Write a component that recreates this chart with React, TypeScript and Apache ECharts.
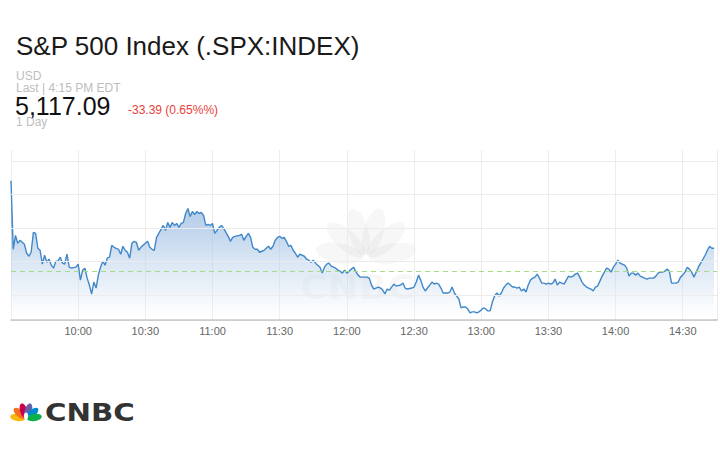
import React, { useEffect, useRef } from "react";
import * as echarts from "echarts";

// Minutes since the 9:30 open, and S&P 500 level at that minute
const minutesFromOpen = [
  0, 1, 2, 3, 4, 5, 6, 7, 8, 9, 10, 11, 12, 13, 14, 15, 16, 17, 18, 19, 20, 21, 22, 23, 24, 25, 26, 27, 29, 30,
  31, 32, 33, 34, 35, 36, 37, 38, 39, 40, 41, 42, 43, 44, 45, 46, 48, 49, 50, 51, 52, 53, 54, 55, 56, 57, 58, 59, 60,
  61, 62, 63, 64, 65, 66, 67, 68, 69, 70, 71, 72, 73, 74, 75, 76, 77, 78, 79, 80, 81, 82, 83, 84, 85, 86, 87, 88, 89, 90,
  91, 92, 93, 94, 95, 96, 97, 98, 99, 100, 102, 103, 104, 105, 106, 107, 108, 109, 110, 111, 112, 113, 114, 115, 116, 117, 118, 119, 120,
  121, 122, 123, 124, 125, 126, 127, 128, 129, 130, 131, 132, 133, 134, 135, 136, 137, 138, 139, 140, 141, 142, 143, 144, 145, 146, 147, 148, 149, 150,
  151, 152, 153, 154, 155, 156, 157, 158, 159, 160, 161, 162, 163, 164, 165, 166, 167, 168, 169, 170, 171, 172, 174, 175, 176, 177, 179, 180,
  181, 182, 183, 184, 185, 186, 187, 188, 189, 190, 191, 192, 193, 194, 195, 196, 197, 198, 199, 200, 201, 202, 203, 204, 205, 206, 207, 208, 209, 210,
  211, 212, 213, 214, 215, 216, 217, 218, 219, 220, 221, 222, 223, 224, 225, 226, 227, 228, 229, 230, 231, 232, 233, 234, 235, 236, 237, 238, 239, 240,
  241, 242, 243, 244, 245, 246, 247, 248, 249, 250, 251, 252, 253, 254, 255, 256, 257, 258, 259, 260, 261, 262, 263, 264, 265, 266, 267, 268, 269, 270,
  271, 272, 273, 274, 275, 276, 277, 278, 279, 280, 281, 282, 283, 284, 285, 286, 287, 288, 289, 290, 291, 292, 293, 294, 295, 296, 297, 298, 299, 300,
  301, 302, 303, 304, 305, 306, 307, 308, 309, 310, 311, 312, 313, 314,
];

const prices = [
  5144.12, 5123.65, 5127.8, 5125.43, 5126.32, 5125.73, 5125.13, 5122.46, 5121.57, 5122.76, 5128.69, 5128.4, 5123.95, 5123.35, 5119.2, 5121.87, 5119.79, 5120.68, 5118.9, 5118.01, 5120.09, 5120.09, 5121.28, 5119.5, 5119.2, 5122.17, 5118.31, 5118.01, 5118.31, 5119.2,
  5114.45, 5117.42, 5118.01, 5115.04, 5112.97, 5110.3, 5113.86, 5112.08, 5115.93, 5118.31, 5120.09, 5118.9, 5120.98, 5121.28, 5124.84, 5124.24, 5123.65, 5122.17, 5124.54, 5123.35, 5122.76, 5120.98, 5125.43, 5126.02, 5125.73, 5123.35, 5124.24, 5124.84, 5125.43,
  5126.02, 5124.24, 5123.65, 5123.35, 5127.21, 5128.4, 5129.58, 5130.77, 5129.29, 5131.66, 5130.18, 5131.66, 5130.77, 5131.37, 5130.18, 5131.37, 5131.66, 5134.33, 5135.82, 5133.44, 5134.93, 5134.04, 5134.93, 5134.33, 5134.63, 5133.74, 5130.77, 5131.07, 5130.77, 5131.37,
  5128.4, 5129.29, 5130.18, 5130.77, 5129.88, 5128.69, 5127.51, 5126.02, 5127.21, 5127.51, 5127.8, 5128.1, 5126.32, 5127.51, 5128.4, 5127.21, 5124.24, 5123.65, 5123.65, 5122.76, 5123.06, 5123.35, 5123.95, 5124.54, 5123.65, 5124.54, 5126.32, 5127.21, 5127.51,
  5126.91, 5127.21, 5126.02, 5124.54, 5124.84, 5123.35, 5122.46, 5121.28, 5122.17, 5121.87, 5121.57, 5120.68, 5120.39, 5119.79, 5120.39, 5119.5, 5118.9, 5118.31, 5116.53, 5118.31, 5119.2, 5119.5, 5118.61, 5118.31, 5118.01, 5117.42, 5117.12, 5116.53, 5117.42, 5116.53,
  5117.12, 5117.72, 5118.31, 5116.97, 5115.93, 5115.34, 5115.34, 5115.34, 5115.34, 5115.04, 5112.97, 5111.78, 5112.08, 5112.37, 5112.08, 5111.48, 5110.3, 5111.78, 5111.48, 5112.37, 5113.26, 5112.67, 5112.97, 5113.56, 5112.08, 5111.78, 5112.08, 5112.37,
  5113.86, 5115.93, 5114.45, 5112.37, 5111.19, 5112.08, 5112.97, 5113.86, 5113.26, 5113.56, 5113.26, 5112.08, 5110.59, 5110.59, 5110.59, 5110.89, 5112.37, 5110.59, 5109.7, 5108.81, 5106.14, 5106.44, 5106.44, 5105.85, 5104.66, 5104.96, 5104.96, 5104.66, 5104.96, 5105.55,
  5106.14, 5105.85, 5105.25, 5105.25, 5107.92, 5109.7, 5110.59, 5109.7, 5110.59, 5112.08, 5112.97, 5113.56, 5112.97, 5112.37, 5112.37, 5112.08, 5112.37, 5111.19, 5111.78, 5110.89, 5112.97, 5114.45, 5115.04, 5115.34, 5116.23, 5115.04, 5113.56, 5113.56, 5113.26, 5113.56,
  5113.26, 5113.56, 5114.75, 5112.97, 5113.86, 5113.56, 5113.26, 5114.45, 5115.64, 5115.34, 5115.64, 5116.23, 5116.53, 5115.34, 5113.86, 5112.97, 5112.37, 5112.08, 5111.78, 5111.19, 5112.37, 5112.67, 5114.15, 5115.64, 5116.82, 5118.01, 5117.72, 5116.82, 5118.31, 5119.2,
  5120.39, 5119.5, 5119.2, 5118.9, 5118.01, 5115.64, 5116.53, 5116.53, 5115.93, 5116.53, 5115.64, 5115.34, 5115.04, 5114.75, 5115.04, 5115.04, 5115.04, 5115.64, 5116.53, 5116.82, 5116.82, 5117.12, 5117.72, 5117.12, 5113.56, 5113.56, 5113.56, 5113.86, 5115.34, 5115.93,
  5116.82, 5118.31, 5117.72, 5116.82, 5115.34, 5116.82, 5118.31, 5119.5, 5120.68, 5121.87, 5123.35, 5124.54, 5123.95, 5123.95,
];

const timeLabels = ["10:00", "10:30", "11:00", "11:30", "12:00", "12:30", "13:00", "13:30", "14:00", "14:30"];
const gridLevels = [5110, 5120, 5130, 5140, 5150];
const lastPrice = 5117.09;

const titleText = "S&P 500 Index (.SPX:INDEX)";
const currencyText = "USD";
const lastText = "Last | 4:15 PM EDT";
const priceText = "5,117.09";
const changeText = "-33.39 (0.65%%)";
const rangeText = "1 Day";

const peacockColors = ["#fcb711", "#f37021", "#cc004c", "#6460aa", "#0089d0", "#0db14b"];
const featherAngles = [80, 48, 16, -16, -48, -80];

function feathers(dist: number, rx: number, ry: number, colors: string[], opacity: number) {
  return featherAngles.map((a, i) => ({
    type: "ellipse",
    x: 0,
    y: 0,
    rotation: (a * Math.PI) / 180,
    shape: { cx: 0, cy: -dist, rx, ry },
    style: { fill: colors[i], opacity },
  }));
}

export default function App() {
  const ref = useRef<HTMLDivElement>(null);
  useEffect(() => {
    if (!ref.current) return;
    const chart = echarts.init(ref.current, undefined, { renderer: "svg" });
    const pts = minutesFromOpen.map((m, i) => [m, prices[i]]);
    const font = "Liberation Sans, Arial, sans-serif";
    const txt = (text: string, x: number, y: number, size: number, fill: string, extra: any = {}) => ({
      type: "text",
      x,
      y,
      z: 10,
      style: {
        text,
        fill,
        fontSize: size,
        fontFamily: font,
        lineHeight: size,
        align: "left",
        verticalAlign: "middle",
        textAlign: "left",
        textVerticalAlign: "middle",
        ...extra,
      },
    });
    chart.setOption({
      animation: false,
      backgroundColor: "#ffffff",
      grid: { left: 11, right: -3, top: 150, bottom: 130, containLabel: false },
      xAxis: {
        type: "value",
        min: 0,
        max: 315.3,
        interval: 30,
        axisLine: { show: true, lineStyle: { color: "#bdbdbd", width: 1.5 } },
        axisTick: { show: false },
        axisLabel: {
          color: "#666",
          fontSize: 11,
          fontFamily: font,
          margin: 5,
          formatter: (v: number) => (v > 0 && v % 30 === 0 ? timeLabels[v / 30 - 1] ?? "" : ""),
        },
        splitLine: { show: true, lineStyle: { color: "#ececec", width: 1 } },
      },
      yAxis: {
        type: "value",
        min: 5102.54,
        max: 5153.28,
        show: false,
        splitLine: { show: false },
      },
      graphic: [
        txt(titleText, 16, 45.6, 26, "#1a1a1a"),
        txt(currencyText, 16, 75.5, 12, "#bdbdbd"),
        txt(lastText, 16, 88.4, 12, "#bdbdbd"),
        txt(priceText, 15, 105.5, 25, "#111", { lineHeight: 20 }),
        txt(changeText, 128, 110, 12, "#e8403a"),
        txt(rangeText, 16, 121.7, 12, "#bdbdbd"),
        // faint watermark
        {
          type: "group",
          x: 366,
          y: 258,
          z: 0,
          silent: true,
          children: feathers(27, 10, 24, peacockColors.map(() => "#000"), 0.03),
        },
        {
          type: "text",
          x: 300,
          y: 287,
          z: 0,
          scaleX: 1.1,
          silent: true,
          style: {
            text: "CNBC",
            fill: "rgba(0,0,0,0.035)",
            fontSize: 34,
            fontWeight: "bold",
            fontFamily: "DejaVu Sans, sans-serif",
            align: "left",
            verticalAlign: "middle",
            textAlign: "left",
            textVerticalAlign: "middle",
          },
        },
        // bottom logo
        {
          type: "group",
          x: 26,
          y: 419,
          z: 10,
          children: [
            ...feathers(8.5, 3.6, 7.5, peacockColors, 1),
            { type: "ellipse", shape: { cx: 0, cy: -3, rx: 2.2, ry: 3.5 }, style: { fill: "#fff" } },
          ],
        },
        {
          type: "text",
          x: 45,
          y: 412,
          z: 10,
          scaleX: 1.22,
          style: {
            text: "CNBC",
            fill: "#333",
            fontSize: 24,
            fontWeight: "bold",
            fontFamily: "DejaVu Sans, sans-serif",
            align: "left",
            verticalAlign: "middle",
            textAlign: "left",
            textVerticalAlign: "middle",
          },
        },
      ],
      series: [
        {
          type: "line",
          data: pts,
          showSymbol: false,
          silent: true,
          z: 1,
          lineStyle: { opacity: 0 },
          markLine: {
            silent: true,
            symbol: "none",
            label: { show: false },
            lineStyle: { color: "#ececec", width: 1, type: "solid" },
            data: gridLevels.map((v) => ({ yAxis: v })),
          },
        },
        {
          type: "line",
          data: pts,
          showSymbol: false,
          silent: true,
          z: 2,
          lineStyle: { color: "#4088c8", width: 1.4 },
          areaStyle: {
            opacity: 1,
            color: new echarts.graphic.LinearGradient(0, 0, 0, 1, [
              { offset: 0, color: "rgba(120,160,212,0.7)" },
              { offset: 0.4, color: "rgba(150,185,225,0.55)" },
              { offset: 0.75, color: "rgba(200,218,238,0.4)" },
              { offset: 1, color: "rgba(255,255,255,0.2)" },
            ]),
          },
          markLine: {
            silent: true,
            symbol: "none",
            label: { show: false },
            lineStyle: { color: "#a6dc86", width: 1, type: [5, 4], opacity: 1 },
            data: [{ yAxis: lastPrice }],
          },
        },
      ],
    });
    return () => chart.dispose();
  }, []);
  return <div ref={ref} style={{ position: "absolute", left: 0, top: 0, width: 720, height: 450 }} />;
}
